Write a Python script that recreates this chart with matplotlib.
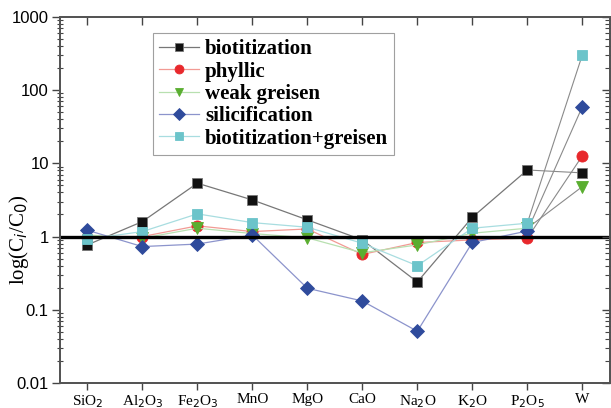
import matplotlib
matplotlib.use("Agg")
import matplotlib.pyplot as plt
from matplotlib.ticker import LogLocator, FixedLocator, NullFormatter

# Components (x axis) and enrichment ratios Ci/C0 for each alteration type
components = ["SiO$_2$", "Al$_2$O$_3$", "Fe$_2$O$_3$", "MnO", "MgO",
              "CaO", "Na$_2$O", "K$_2$O", "P$_2$O$_5$", "W"]

biotitization = [0.77, 1.60, 5.35, 3.16, 1.69, 0.90, 0.24, 1.83, 8.1, 7.4]
phyllic = [1.00, 1.00, 1.40, 1.17, 1.27, 0.57, 0.83, 0.90, 0.95, 12.6]
weak_greisen = [1.05, 0.95, 1.30, 1.10, 0.96, 0.60, 0.77, 1.11, 1.30, 4.8]
silicification = [1.22, 0.73, 0.79, 1.05, 0.197, 0.132, 0.051, 0.83, 1.19, 59]
biot_greisen = [0.92, 1.17, 2.04, 1.55, 1.34, 0.81, 0.40, 1.30, 1.52, 300]

series = [
    ("biotitization", biotitization, "#777777", "s", "#111111", "#777777", 7),
    ("phyllic", phyllic, "#f29a94", "o", "#e8282c", "#e8282c", 8),
    ("weak greisen", weak_greisen, "#b8e0b0", "v", "#5aae30", "#5aae30", 8),
    ("silicification", silicification, "#8c94cc", "D", "#2f4b9c", "#2f4b9c", 7.5),
    ("biotitization+greisen", biot_greisen, "#a8dde0", "s", "#6cc4ca", "#6cc4ca", 7),
]

serif = ["Liberation Serif", "DejaVu Serif"]
sans = ["Liberation Sans", "DejaVu Sans"]

fig = plt.figure(figsize=(6.11, 4.08), dpi=100)
ax = fig.add_axes([0.098, 0.061, 0.9, 0.898])

x = list(range(1, len(components) + 1))
handles = []
for name, vals, lc, mk, mfc, mec, ms in series:
    # main trend in the series colour
    h, = ax.plot(x[:-1], vals[:-1], color=lc, lw=0.9, marker=mk, ms=ms,
                 mfc=mfc, mec=mec, mew=0.6, zorder=3, label=name)
    # tungsten segment drawn as a thin grey tie line
    ax.plot(x[-2:], vals[-2:], color="#8a8a8a", lw=0.8, zorder=2)
    ax.plot(x[-1:], vals[-1:], ls="none", marker=mk, ms=ms, mfc=mfc,
            mec=mec, mew=0.6, zorder=4)
    handles.append(h)

# reference line Ci/C0 = 1
ax.axhline(1, color="black", lw=2.4, zorder=5)

ax.set_yscale("log")
ax.set_ylim(0.01, 1000)
ax.set_xlim(0.5, 10.5)

ax.set_xticks(x)
ax.set_xticklabels(components, family=serif, fontsize=11)
ax.set_yticks([0.01, 0.1, 1, 10, 100, 1000])
ax.set_yticklabels(["0.01", "0.1", "1", "10", "100", "1000"],
                   family=sans, fontsize=12)
ax.yaxis.set_minor_locator(LogLocator(base=10, subs=range(2, 10), numticks=20))
ax.yaxis.set_minor_formatter(NullFormatter())

ax.tick_params(axis="x", which="major", direction="out", length=5,
               width=1, color="#444444", top=False, pad=2)
ax.tick_params(axis="y", which="major", direction="out", length=6,
               width=1, color="#444444", right=False, pad=2)
ax.tick_params(axis="y", which="minor", direction="inout", length=4,
               width=0.8, color="#444444", right=False)

# twin axes for the inward ticks on the top and right frame
axt = ax.twiny()
axt.set_xlim(ax.get_xlim())
axt.set_xticks(x)
axt.set_xticklabels([])
axt.tick_params(axis="x", direction="in", length=6, width=1, color="#444444")
axr = ax.twinx()
axr.set_yscale("log")
axr.set_ylim(ax.get_ylim())
axr.yaxis.set_major_locator(FixedLocator([0.01, 0.1, 1, 10, 100, 1000]))
axr.yaxis.set_minor_locator(LogLocator(base=10, subs=range(2, 10), numticks=20))
axr.yaxis.set_major_formatter(NullFormatter())
axr.yaxis.set_minor_formatter(NullFormatter())
axr.tick_params(axis="y", which="major", direction="in", length=6, width=1,
                color="#444444")
axr.tick_params(axis="y", which="minor", direction="in", length=3.5,
                width=0.8, color="#444444")

for a in (ax, axt, axr):
    for s in a.spines.values():
        s.set_color("#555555")
        s.set_linewidth(1.2)

ax.set_ylabel(r"log(C$_i$/C$_0$)", family=serif, fontsize=15)
ax.yaxis.set_label_coords(-0.053, 0.39)

leg = ax.legend(handles=handles, loc="upper left",
                bbox_to_anchor=(0.169, 0.955), frameon=True, fancybox=False,
                prop={"family": serif, "weight": "bold", "size": 15},
                handlelength=1.9, handletextpad=0.3, labelspacing=0.11,
                borderpad=0.3, borderaxespad=0, handleheight=0.7,
                markerscale=0.8)
leg.get_frame().set_edgecolor("#888888")
leg.get_frame().set_linewidth(0.8)
leg.set_zorder(10)

fig.savefig("out.png", dpi=100)
